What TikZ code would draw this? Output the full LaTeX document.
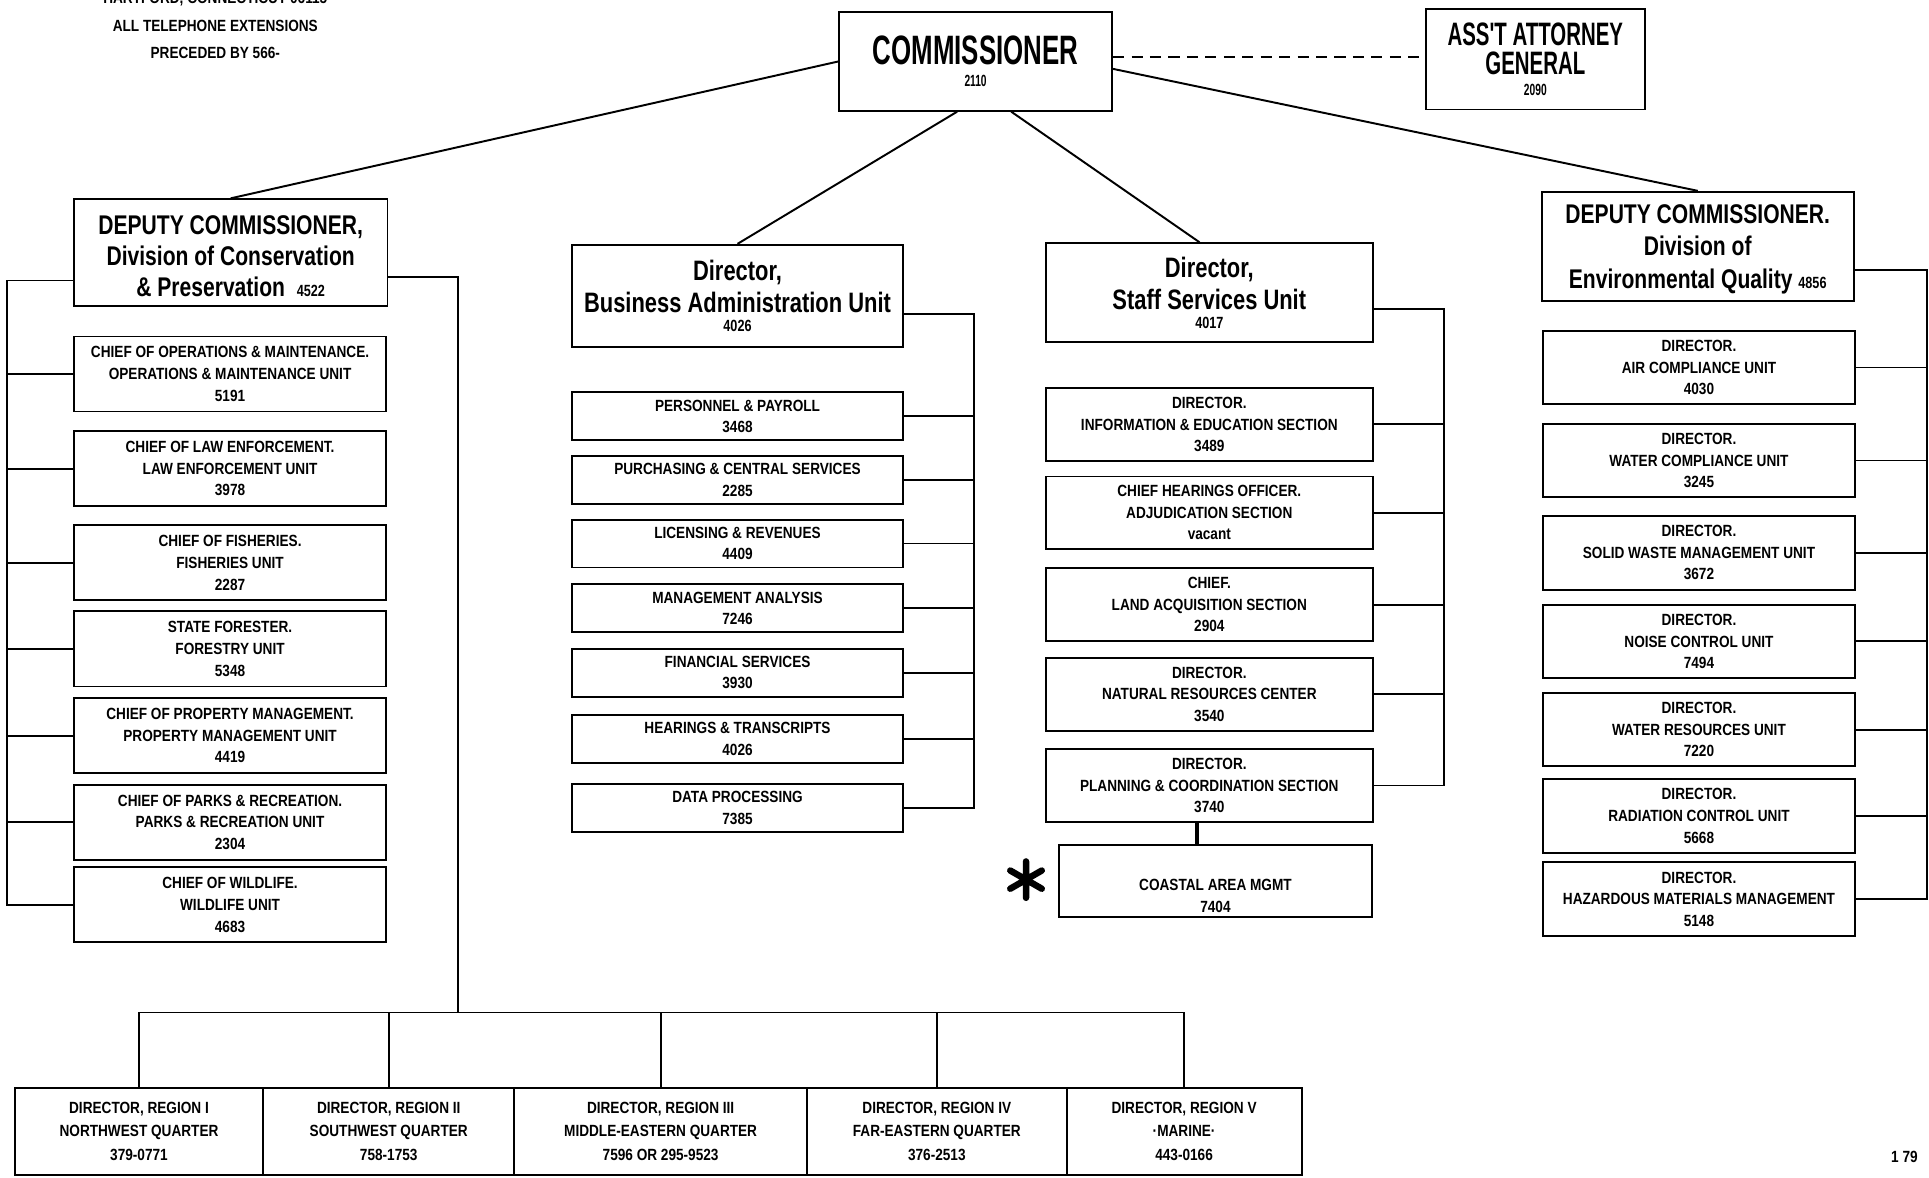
\documentclass[tikz,border=0pt]{standalone}
\usepackage{fontspec}
\setmainfont{Liberation Sans}[UprightFont=* Bold, FakeStretch=0.84]
\newfontfamily\midfamily{Liberation Sans}[UprightFont=* Bold, FakeStretch=0.78]
\newfontfamily\bigfamily{Liberation Sans}[UprightFont=* Bold, FakeStretch=0.63]
\newcommand{\unitfont}{\fontsize{7.5}{10}\selectfont}
\begin{document}
\begin{tikzpicture}[x=0.02cm, y=-0.02cm, line width=0.9pt,
% common options for the two top boxes:
topbox/.style = {draw, align=center, inner sep=0,
            font=\bigfamily\fontsize{19}{22}\selectfont},
% common options for the division heads:
headbox/.style = {draw, align=center, inner sep=0,
            font=\midfamily\fontsize{13}{14.8}\selectfont},
% common options for the units:
unitbox/.style = {draw, align=center, inner sep=0, font=\unitfont},
cpbox/.style = {unitbox, minimum width=5.08cm, minimum height=1.22cm},
babox/.style = {unitbox, minimum width=5.38cm, minimum height=0.78cm},
ssbox/.style = {unitbox, minimum width=5.32cm, minimum height=1.18cm},
eqbox/.style = {unitbox, minimum width=5.08cm, minimum height=1.2cm},
regbox/.style = {unitbox, minimum height=1.42cm, font=\fontsize{7.5}{10.8}\selectfont}]
\clip (0,0) rectangle (1568,957);
% heading
\node[anchor=base, font=\unitfont] (city) at (175,3) {HARTFORD, CONNECTICUT 06115};
\node[align=center, font=\fontsize{7.5}{12.5}\selectfont] (phone) at (175,32) {ALL TELEPHONE EXTENSIONS\\PRECEDED BY 566-};
% top
\node[topbox, minimum width=4.44cm, minimum height=1.6cm] (com) at (793,50) {COMMISSIONER\\[-12pt]{\unitfont 2110}};
\node[topbox, font=\bigfamily\fontsize{15}{13.7}\selectfont, minimum width=3.56cm, minimum height=1.64cm] (att) at (1248,48) {ASS'T ATTORNEY\\GENERAL\\[-4pt]{\unitfont 2090}};
% division heads
\node[headbox, font=\midfamily\fontsize{12.5}{14.2}\selectfont, minimum width=5.1cm, minimum height=1.74cm] (dcp) at (187.5,205.5) {\rule{0pt}{12pt}DEPUTY COMMISSIONER,\\Division of Conservation\\\& Preservation\ \ {\unitfont 4522}};
\node[headbox, minimum width=5.38cm, minimum height=1.66cm] (bau) at (599.5,240.5) {Director,\\Business Administration Unit\\[-6pt]{\unitfont 4026}};
\node[headbox, minimum width=5.32cm, minimum height=1.6cm] (ssu) at (983,237.7) {Director,\\Staff Services Unit\\[-6pt]{\unitfont 4017}};
\node[headbox, font=\midfamily\fontsize{12.5}{15}\selectfont, minimum width=5.08cm, minimum height=1.78cm] (deq) at (1380,200.4) {\rule{0pt}{11pt}DEPUTY COMMISSIONER.\\Division of\\Environmental Quality\ {\unitfont 4856}};
% conservation & preservation
\node[cpbox] (cp1) at (187,304) {CHIEF OF OPERATIONS \& MAINTENANCE.\\OPERATIONS \& MAINTENANCE UNIT\\5191};
\node[cpbox] (cp2) at (187,381) {CHIEF OF LAW ENFORCEMENT.\\LAW ENFORCEMENT UNIT\\3978};
\node[cpbox] (cp3) at (187,457.5) {CHIEF OF FISHERIES.\\FISHERIES UNIT\\2287};
\node[cpbox] (cp4) at (187,527.5) {STATE FORESTER.\\FORESTRY UNIT\\5348};
\node[cpbox] (cp5) at (187,598) {CHIEF OF PROPERTY MANAGEMENT.\\PROPERTY MANAGEMENT UNIT\\4419};
\node[cpbox] (cp6) at (187,668.5) {CHIEF OF PARKS \& RECREATION.\\PARKS \& RECREATION UNIT\\2304};
\node[cpbox] (cp7) at (187,735.5) {CHIEF OF WILDLIFE.\\WILDLIFE UNIT\\4683};
% business administration
\node[babox] (ba1) at (599.5,338.5) {PERSONNEL \& PAYROLL\\3468};
\node[babox] (ba2) at (599.5,390) {PURCHASING \& CENTRAL SERVICES\\2285};
\node[babox] (ba3) at (599.5,441.8) {LICENSING \& REVENUES\\4409};
\node[babox] (ba4) at (599.5,494.5) {MANAGEMENT ANALYSIS\\7246};
\node[babox] (ba5) at (599.5,546.7) {FINANCIAL SERVICES\\3930};
\node[babox] (ba6) at (599.5,600.8) {HEARINGS \& TRANSCRIPTS\\4026};
\node[babox] (ba7) at (599.5,656.8) {DATA PROCESSING\\7385};
% staff services
\node[ssbox] (ss1) at (983,345) {DIRECTOR.\\INFORMATION \& EDUCATION SECTION\\3489};
\node[ssbox] (ss2) at (983,416.8) {CHIEF HEARINGS OFFICER.\\ADJUDICATION SECTION\\vacant};
\node[ssbox] (ss3) at (983,491.4) {CHIEF.\\LAND ACQUISITION SECTION\\2904};
\node[ssbox] (ss4) at (983,564.4) {DIRECTOR.\\NATURAL RESOURCES CENTER\\3540};
\node[ssbox] (ss5) at (983,638.5) {DIRECTOR.\\PLANNING \& COORDINATION SECTION\\3740};
\node[unitbox, minimum width=5.08cm, minimum height=1.16cm] (cam) at (988,716) {\rule{0pt}{19pt}COASTAL AREA MGMT\\7404};
\node[circle, minimum size=0.56cm, inner sep=0] (ast) at (834,715) {};
% environmental quality
\node[eqbox] (eq1) at (1381,298.7) {DIRECTOR.\\AIR COMPLIANCE UNIT\\4030};
\node[eqbox] (eq2) at (1381,374.3) {DIRECTOR.\\WATER COMPLIANCE UNIT\\3245};
\node[eqbox] (eq3) at (1381,449.3) {DIRECTOR.\\SOLID WASTE MANAGEMENT UNIT\\3672};
\node[eqbox] (eq4) at (1381,521.4) {DIRECTOR.\\NOISE CONTROL UNIT\\7494};
\node[eqbox] (eq5) at (1381,593) {DIRECTOR.\\WATER RESOURCES UNIT\\7220};
\node[eqbox] (eq6) at (1381,663.2) {DIRECTOR.\\RADIATION CONTROL UNIT\\5668};
\node[eqbox] (eq7) at (1381,730.8) {DIRECTOR.\\HAZARDOUS MATERIALS MANAGEMENT\\5148};
% regions
\node[regbox, minimum width=4.04cm] (rg1) at (113,919.5) {DIRECTOR, REGION I\\NORTHWEST QUARTER\\379-0771};
\node[regbox, minimum width=4.08cm] (rg2) at (316,919.5) {DIRECTOR, REGION II\\SOUTHWEST QUARTER\\758-1753};
\node[regbox, minimum width=4.76cm] (rg3) at (537,919.5) {DIRECTOR, REGION III\\MIDDLE-EASTERN QUARTER\\7596 OR 295-9523};
\node[regbox, minimum width=4.22cm] (rg4) at (761.5,919.5) {DIRECTOR, REGION IV\\FAR-EASTERN QUARTER\\376-2513};
\node[regbox, minimum width=3.82cm] (rg5) at (962.5,919.5) {DIRECTOR, REGION V\\·MARINE·\\443-0166};
\node[font=\unitfont] (pg) at (1548,940) {1 79};
% bus points
\coordinate (cpbus) at (6,228);
\coordinate (rgbus) at (372,225);
\coordinate (rgrow) at (372,823);
\coordinate (babus) at (792,255);
\coordinate (ssbus) at (1174,251);
\coordinate (eqbus) at (1566,219.5);
% lines from the commissioner
\draw[-] (com.west) to (dcp.north);
\draw[-] ([yshift=-0.12cm]com.east) to (deq.north);
\draw[dashed, dash pattern=on 0.18cm off 0.12cm] ([yshift=0.08cm]com.east) to ([yshift=0.08cm]com.east -| att.west);
\draw[-] ([xshift=-0.3cm]com.south) to (bau.north);
\draw[-] ([xshift=0.58cm]com.south) to ([xshift=-0.16cm]ssu.north);
% conservation & preservation
\draw[-] (cpbus -| dcp.west) -- (cpbus) |- (cp7.west);
\draw[-] (cp1.west) to (cp1.west -| cpbus);
\draw[-] (cp2.west) to (cp2.west -| cpbus);
\draw[-] (cp3.west) to (cp3.west -| cpbus);
\draw[-] (cp4.west) to (cp4.west -| cpbus);
\draw[-] (cp5.west) to (cp5.west -| cpbus);
\draw[-] (cp6.west) to (cp6.west -| cpbus);
\draw[-] (rgbus -| dcp.east) -- (rgbus) -- (rgrow);
\draw[-] (rg1.north) -- (rg1.north |- rgrow) -- (rg5.north |- rgrow) -- (rg5.north);
\draw[-] (rg2.north) to (rg2.north |- rgrow);
\draw[-] (rg3.north) to (rg3.north |- rgrow);
\draw[-] (rg4.north) to (rg4.north |- rgrow);
% business administration
\draw[-] (babus -| bau.east) -- (babus) |- (ba7.east);
\draw[-] (ba1.east) to (ba1.east -| babus);
\draw[-] (ba2.east) to (ba2.east -| babus);
\draw[-] (ba3.east) to (ba3.east -| babus);
\draw[-] (ba4.east) to (ba4.east -| babus);
\draw[-] (ba5.east) to (ba5.east -| babus);
\draw[-] (ba6.east) to (ba6.east -| babus);
% staff services
\draw[-] (ssbus -| ssu.east) -- (ssbus) |- (ss5.east);
\draw[-] (ss1.east) to (ss1.east -| ssbus);
\draw[-] (ss2.east) to (ss2.east -| ssbus);
\draw[-] (ss3.east) to (ss3.east -| ssbus);
\draw[-] (ss4.east) to (ss4.east -| ssbus);
\draw[line width=1.6pt] ([xshift=-0.2cm]ss5.south) to ([xshift=-0.2cm]ss5.south |- cam.north);
\draw[line width=3pt, line cap=round] (ast.north) -- (ast.south) (ast.30) -- (ast.210) (ast.150) -- (ast.330);
% environmental quality
\draw[-] (eqbus -| deq.east) -- (eqbus) |- (eq7.east);
\draw[-] (eq1.east) to (eq1.east -| eqbus);
\draw[-] (eq2.east) to (eq2.east -| eqbus);
\draw[-] (eq3.east) to (eq3.east -| eqbus);
\draw[-] (eq4.east) to (eq4.east -| eqbus);
\draw[-] (eq5.east) to (eq5.east -| eqbus);
\draw[-] (eq6.east) to (eq6.east -| eqbus);
\end{tikzpicture}
\end{document}
